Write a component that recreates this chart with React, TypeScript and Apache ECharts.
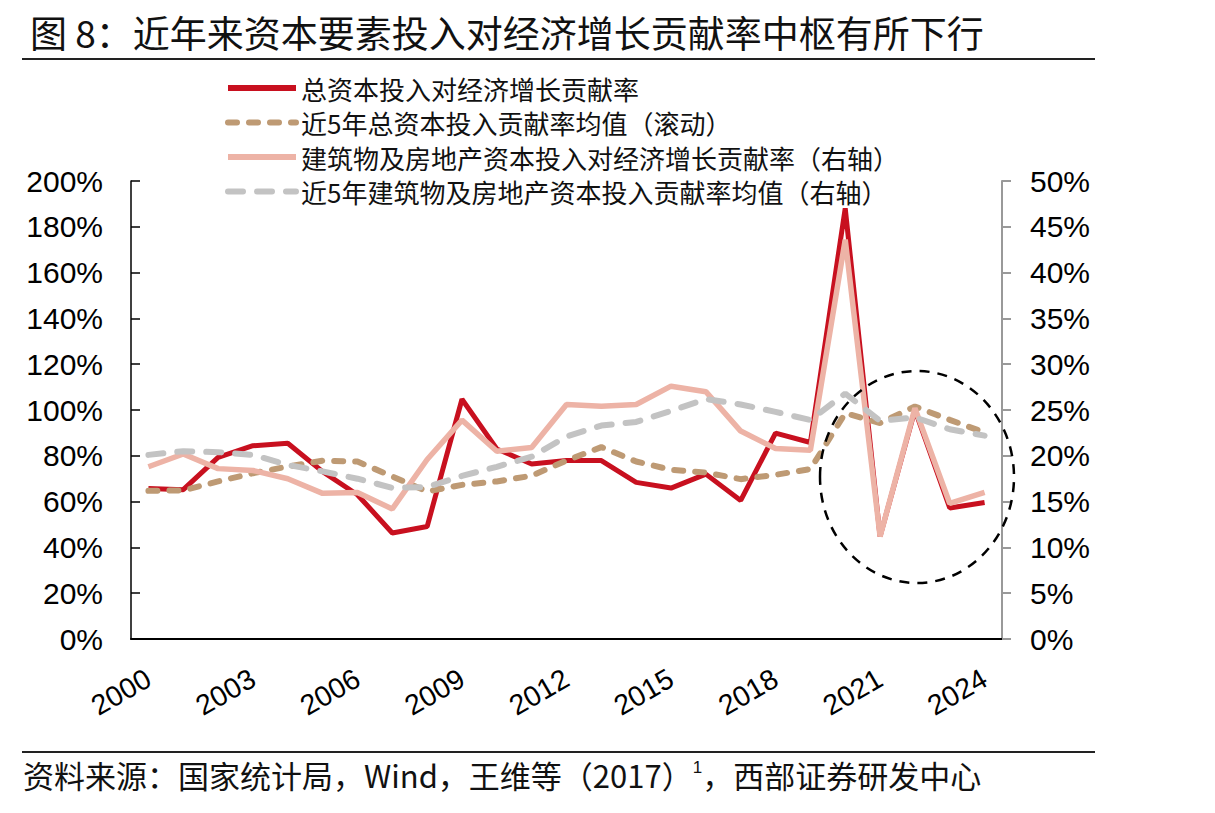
import React, { useEffect, useRef } from "react";
import * as echarts from "echarts";

// Years shown on the category axis
const years: string[] = [
  "2000", "2001", "2002", "2003", "2004", "2005", "2006", "2007", "2008", "2009",
  "2010", "2011", "2012", "2013", "2014", "2015", "2016", "2017", "2018", "2019",
  "2020", "2021", "2022", "2023", "2024",
];

// 总资本投入对经济增长贡献率 (%, left axis)
const totalCapital: number[] = [
  65.7, 65.2, 79.3, 84.4, 85.5, 73.1, 63.0, 46.3, 49.1, 104.7,
  83.0, 76.4, 77.9, 77.9, 68.4, 65.9, 72.0, 60.5, 89.9, 85.8,
  188.1, 44.8, 100.0, 57.2, 59.6,
];

// 近5年总资本投入贡献率均值（滚动） (%, left axis)
const totalCapitalAvg5: number[] = [
  64.7, 64.9, 68.8, 72.4, 75.3, 77.9, 77.5, 71.0, 64.4, 67.3,
  68.8, 71.3, 77.9, 83.8, 77.5, 73.9, 72.7, 69.8, 71.7, 74.2,
  98.6, 94.3, 101.5, 95.7, 90.2,
];

// 建筑物及房地产资本投入对经济增长贡献率 (%, right axis)
const realEstate: number[] = [
  18.8, 20.2, 18.6, 18.4, 17.5, 15.9, 16.0, 14.2, 19.6, 23.9,
  20.5, 20.9, 25.6, 25.4, 25.6, 27.6, 27.0, 22.7, 20.8, 20.6,
  43.6, 11.2, 25.2, 14.8, 16.0,
];

// 近5年建筑物及房地产资本投入贡献率均值 (%, right axis)
const realEstateAvg5: number[] = [
  20.1, 20.5, 20.4, 20.1, 19.0, 18.3, 17.5, 16.5, 16.6, 17.8,
  18.8, 19.9, 22.1, 23.3, 23.7, 24.9, 26.2, 25.6, 24.8, 23.9,
  26.8, 23.8, 24.2, 22.9, 22.2,
];

const seriesNames: string[] = [
  "总资本投入对经济增长贡献率",
  "近5年总资本投入贡献率均值（滚动）",
  "建筑物及房地产资本投入对经济增长贡献率（右轴）",
  "近5年建筑物及房地产资本投入贡献率均值（右轴）",
];

const titleText = "图 8：近年来资本要素投入对经济增长贡献率中枢有所下行";
const sourceText = "资料来源：国家统计局，Wind，王维等（2017）{sup|1}，西部证券研发中心";

const LATIN = "'Liberation Sans', Arial, 'Noto Sans CJK SC', sans-serif";
const CJK = "'Noto Sans CJK SC', 'Liberation Sans', sans-serif";

const W = 1215;
const H = 813;

export default function App() {
  const ref = useRef<HTMLDivElement>(null);

  useEffect(() => {
    document.body.style.margin = "0";
    if (!ref.current) return;
    const chart = echarts.init(ref.current, null, { renderer: "svg" });

    const option: echarts.EChartsOption = {
      animation: false,
      backgroundColor: "#ffffff",
      title: {
        text: titleText,
        left: 25,
        top: 8,
        textStyle: {
          fontFamily: CJK,
          fontSize: 37,
          fontWeight: "normal",
          color: "#111111",
        },
      },
      legend: {
        orient: "vertical",
        left: 220,
        top: 70,
        itemWidth: 68,
        itemHeight: 14,
        itemGap: 8.5,
        itemStyle: { opacity: 0, borderWidth: 0 },
        lineStyle: { width: 6 },
        textStyle: {
          fontFamily: CJK,
          fontSize: 26,
          color: "#111111",
          lineHeight: 26,
        },
        data: seriesNames,
      },
      grid: {
        left: 131,
        right: 213,
        top: 181,
        bottom: 174,
      },
      xAxis: {
        type: "category",
        data: years,
        boundaryGap: true,
        axisLine: { lineStyle: { color: "#000000", width: 2 } },
        axisTick: {
          inside: true,
          length: 10,
          interval: 2,
          lineStyle: { color: "#000000", width: 1.5 },
        },
        axisLabel: {
          interval: 2,
          rotate: 30,
          margin: 37,
          fontFamily: LATIN,
          fontSize: 28.5,
          color: "#000000",
        },
      },
      yAxis: [
        {
          type: "value",
          min: 0,
          max: 200,
          interval: 20,
          splitLine: { show: false },
          axisLine: { show: true, lineStyle: { color: "#000000", width: 1.5 } },
          axisTick: {
            show: true,
            inside: true,
            length: 9,
            lineStyle: { color: "#000000", width: 1.5 },
          },
          axisLabel: {
            formatter: "{value}%",
            margin: 28,
            fontFamily: LATIN,
            fontSize: 30,
            color: "#000000",
          },
        },
        {
          type: "value",
          min: 0,
          max: 50,
          interval: 5,
          position: "right",
          splitLine: { show: false },
          axisLine: { show: true, lineStyle: { color: "#999999", width: 2 } },
          axisTick: {
            show: true,
            inside: false,
            length: 9,
            lineStyle: { color: "#999999", width: 2 },
          },
          axisLabel: {
            formatter: "{value}%",
            margin: 28,
            fontFamily: LATIN,
            fontSize: 30,
            color: "#000000",
          },
        },
      ],
      series: [
        {
          name: seriesNames[0],
          type: "line",
          yAxisIndex: 0,
          data: totalCapital,
          symbol: "none",
          color: "#C8101F",
          lineStyle: { color: "#C8101F", width: 5 },
          z: 2,
        },
        {
          name: seriesNames[1],
          type: "line",
          yAxisIndex: 0,
          data: totalCapitalAvg5,
          symbol: "none",
          color: "#BE9A74",
          lineStyle: {
            color: "#BE9A74",
            width: 6,
            type: [9, 12],
            cap: "round",
          },
          z: 3,
        },
        {
          name: seriesNames[2],
          type: "line",
          yAxisIndex: 1,
          data: realEstate,
          symbol: "none",
          color: "#EDB3A6",
          lineStyle: { color: "#EDB3A6", width: 5.5 },
          z: 4,
        },
        {
          name: seriesNames[3],
          type: "line",
          yAxisIndex: 1,
          data: realEstateAvg5,
          symbol: "none",
          color: "#C3C3C3",
          lineStyle: {
            color: "#C3C3C3",
            width: 6,
            type: [15, 14],
            cap: "round",
          },
          z: 5,
        },
      ],
      graphic: [
        // rule under the title
        {
          type: "line",
          shape: { x1: 22, y1: 59, x2: 1095, y2: 59 },
          style: { stroke: "#222222", lineWidth: 2 },
        },
        // rule above the source note
        {
          type: "line",
          shape: { x1: 22, y1: 752, x2: 1095, y2: 752 },
          style: { stroke: "#222222", lineWidth: 2 },
        },
        // dashed highlight around the recent years
        {
          type: "ellipse",
          z: 100,
          shape: { cx: 917, cy: 477, rx: 97, ry: 106 },
          style: {
            fill: "none",
            stroke: "#000000",
            lineWidth: 2.5,
            lineDash: [10, 8],
          },
        },
        {
          type: "text",
          left: 23,
          top: 759,
          style: {
            text: sourceText,
            fontFamily: CJK,
            fontSize: 31,
            fill: "#111111",
            rich: {
              sup: {
                fontFamily: LATIN,
                fontSize: 17,
                verticalAlign: "top",
                fill: "#111111",
              },
            },
          },
        },
      ],
    };

    chart.setOption(option);
    return () => {
      chart.dispose();
    };
  }, []);

  return <div ref={ref} style={{ width: W, height: H }} />;
}
